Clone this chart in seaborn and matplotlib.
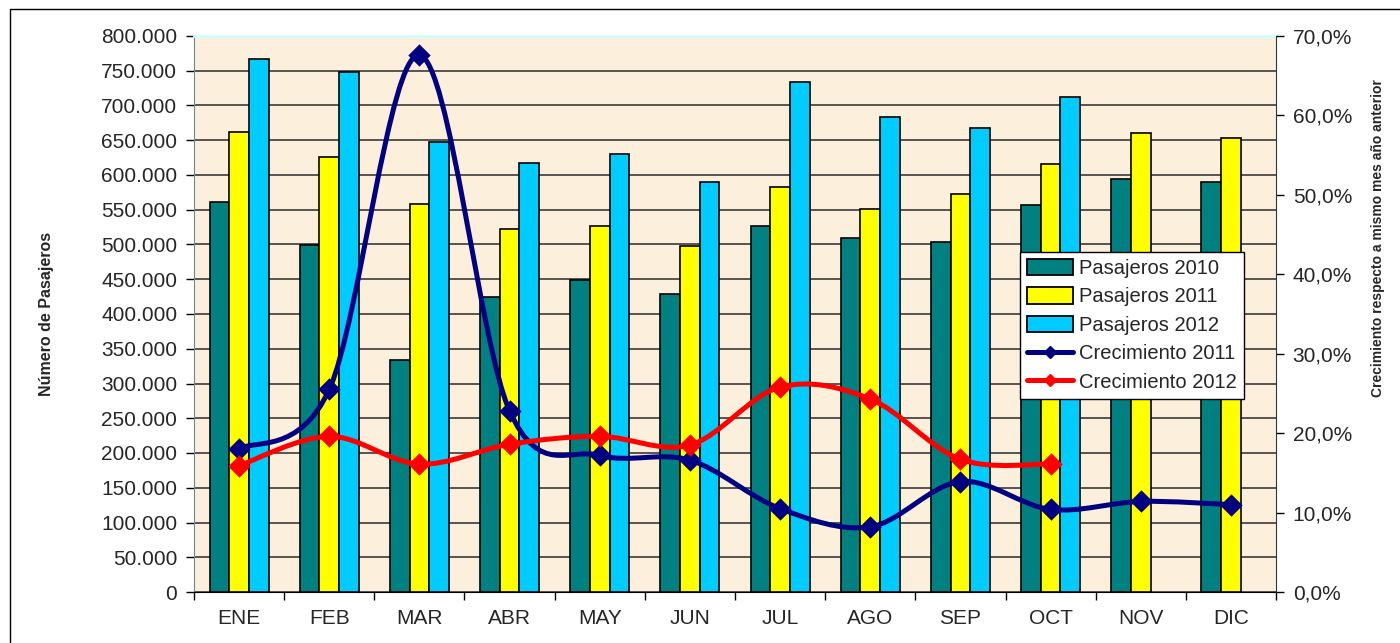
import numpy as np
import pandas as pd
import matplotlib.pyplot as plt
import seaborn as sns
from matplotlib.path import Path
from matplotlib.patches import PathPatch, Patch, Rectangle
from matplotlib.lines import Line2D
from matplotlib.ticker import FuncFormatter, MultipleLocator, FixedLocator, NullFormatter

# =====================================
# Data
# =====================================
meses = ["ENE", "FEB", "MAR", "ABR", "MAY", "JUN",
         "JUL", "AGO", "SEP", "OCT", "NOV", "DIC"]

pasajeros_2010 = [561600, 499300, 333800, 424900, 448900, 428300,
                  527100, 508900, 503100, 556800, 594200, 589500]
pasajeros_2011 = [661400, 626300, 558300, 522300, 526600, 498300,
                  582300, 550600, 572200, 615400, 659900, 652800]
pasajeros_2012 = [766500, 748600, 647900, 617700, 629700, 589500,
                  733300, 683900, 667100, 712200, np.nan, np.nan]

crec_2011 = [18.0, 25.5, 67.6, 22.8, 17.2, 16.6, 10.5, 8.2, 13.9, 10.4, 11.4, 11.0]
crec_2012 = [15.9, 19.6, 16.1, 18.6, 19.6, 18.5, 25.8, 24.3, 16.7, 16.1]

series = ["Pasajeros 2010", "Pasajeros 2011", "Pasajeros 2012"]
colores_barras = ["#008080", "#FFFF00", "#00CCFF"]
color_c2011 = "#000080"
color_c2012 = "#FF0000"

df = pd.DataFrame({
    "Mes": meses * 3,
    "Serie": [s for s in series for _ in meses],
    "Pasajeros": pasajeros_2010 + pasajeros_2011 + pasajeros_2012,
})

# =====================================
# Helpers
# =====================================
def smooth_path(xs, ys):
    # Excel-like smoothed line: Catmull-Rom segments as cubic Beziers
    pts = np.column_stack([xs, ys]).astype(float)
    n = len(pts)
    verts = [pts[0]]
    codes = [Path.MOVETO]
    for i in range(n - 1):
        p0 = pts[i - 1] if i > 0 else pts[i]
        p3 = pts[i + 2] if i + 2 < n else pts[i + 1]
        c1 = pts[i] + (pts[i + 1] - p0) / 6
        c2 = pts[i + 1] - (p3 - pts[i]) / 6
        verts += [c1, c2, pts[i + 1]]
        codes += [Path.CURVE4] * 3
    return Path(verts, codes)


miles = FuncFormatter(lambda v, p: f"{int(v):,}".replace(",", "."))
porcentaje = FuncFormatter(lambda v, p: f"{v:.1f}%".replace(".", ","))

# =====================================
# Figure
# =====================================
sns.set_style("white")
plt.rcParams["font.family"] = ["Liberation Sans", "DejaVu Sans"]

fig = plt.figure(figsize=(14, 6.43), dpi=100)
ax = fig.add_axes([194 / 1400, 51 / 643, 1082 / 1400, 556 / 643])
ax.set_facecolor("#FCEFDB")

sns.barplot(data=df, x="Mes", y="Pasajeros", hue="Serie", hue_order=series,
            palette=colores_barras, saturation=1, width=0.655, edgecolor="black",
            linewidth=1.2, errorbar=None, legend=False, ax=ax, zorder=3)

ax.set_xlim(-0.5, 11.5)
ax.set_ylim(0, 800000)
ax.yaxis.set_major_locator(MultipleLocator(50000))
ax.yaxis.set_major_formatter(miles)
ax.yaxis.grid(True, color="#2b2b2b", linewidth=1.1)
ax.set_axisbelow(True)

ax.set_xticks(range(len(meses)))
ax.set_xticklabels(meses)
ax.xaxis.set_minor_locator(FixedLocator(np.arange(-0.5, 12, 1)))
ax.xaxis.set_minor_formatter(NullFormatter())
ax.tick_params(axis="x", which="major", length=0, labelsize=15, pad=12)
ax.tick_params(axis="x", which="minor", length=6, width=1, color="black",
               direction="out", bottom=True)
ax.tick_params(axis="y", length=6, width=1, color="black", direction="out",
               left=True, labelsize=15, pad=6)

ax.set_xlabel("")
ax.set_ylabel("Número de Pasajeros", fontsize=11.5, fontweight="bold", labelpad=34)

for side in ["left", "bottom", "top", "right"]:
    ax.spines[side].set_visible(True)
ax.spines["left"].set_color("#5f8f8f")
ax.spines["bottom"].set_color("black")
ax.spines["top"].set_color("#CCFFFF")
ax.spines["top"].set_linewidth(2)
ax.spines["right"].set_visible(False)

# =====================================
# Secondary axis - growth lines
# =====================================
ax2 = ax.twinx()
ax2.set_ylim(0, 70)
ax2.yaxis.set_major_locator(MultipleLocator(10))
ax2.yaxis.set_major_formatter(porcentaje)
ax2.tick_params(axis="y", length=6, width=1, color="black", direction="out",
                right=True, labelsize=15, pad=6)
for side in ["left", "bottom", "top"]:
    ax2.spines[side].set_visible(False)
ax2.spines["right"].set_visible(True)
ax2.spines["right"].set_color("#1f3f3f")
ax2.set_ylabel("Crecimiento respecto a mismo mes año anterior",
               fontsize=10, fontweight="bold")
ax2.yaxis.set_label_coords(1.088, 0.637)
ax2.grid(False)

for valores, color in [(crec_2011, color_c2011), (crec_2012, color_c2012)]:
    xs = np.arange(len(valores))
    ax2.add_patch(PathPatch(smooth_path(xs, valores), facecolor="none",
                            edgecolor=color, linewidth=3.6, zorder=4,
                            capstyle="round", joinstyle="round"))
    sns.scatterplot(x=xs, y=valores, marker="D", s=130, color=color,
                    edgecolor=color, linewidth=0, zorder=5, ax=ax2, legend=False)

# =====================================
# Legend
# =====================================
handles = [Patch(facecolor=c, edgecolor="black", linewidth=1.3) for c in colores_barras]
handles += [
    Line2D([], [], color=color_c2011, lw=3.6, marker="D", markersize=6),
    Line2D([], [], color=color_c2012, lw=3.6, marker="D", markersize=6),
]
labels = series + ["Crecimiento 2011", "Crecimiento 2012"]
leg = ax2.legend(handles, labels, loc="upper left", bbox_to_anchor=(0.763, 0.612),
                 fontsize=14.5, frameon=True, fancybox=False, shadow=False,
                 framealpha=1, edgecolor="black", borderpad=0.35,
                 labelspacing=0.45, handlelength=2.3, handleheight=0.9,
                 handletextpad=0.3, borderaxespad=0)
leg.get_frame().set_linewidth(1)
leg.set_zorder(10)

# outer chart frame
fig.patches.append(Rectangle((10 / 1400, -0.1), 1.2, 1.1 - 9 / 643,
                             transform=fig.transFigure, fill=False,
                             edgecolor="black", linewidth=1))

plt.savefig("out.png", dpi=100)
plt.close()
